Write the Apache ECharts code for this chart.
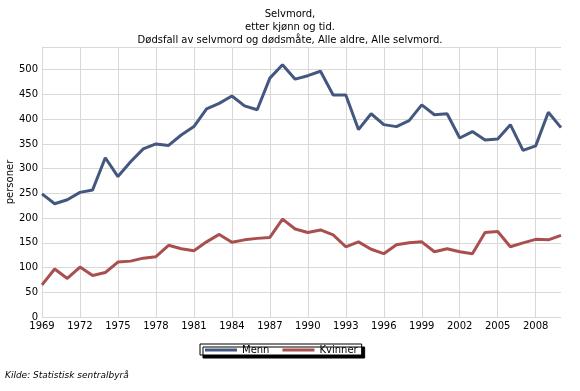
<!DOCTYPE html>
<html><head><meta charset="utf-8">
<script src="https://cdn.jsdelivr.net/npm/echarts@6/dist/echarts.min.js"></script>
<style>html,body{margin:0;padding:0;background:#fff}#c{width:580px;height:391px}</style>
</head><body><div id="c"></div>
<script>
const years = [];
for (let y = 1969; y <= 2010; y++) years.push(String(y));
const menn = [249,229,237,252,257,322,284,314,340,350,347,368,385,421,432,447,427,419,483,510,481,488,497,449,449,379,411,389,385,397,429,409,411,362,375,358,360,389,337,346,414,383];
const kvinner = [65,97,78,101,84,90,111,113,119,122,145,138,134,152,167,151,156,159,161,198,178,171,176,166,142,152,137,128,146,150,152,132,138,132,128,171,173,142,150,157,156,165];
const titleLines = ['Selvmord,', 'etter kjønn og tid.', 'Dødsfall av selvmord og dødsmåte, Alle aldre, Alle selvmord.'];
const font = 'Verdana, "DejaVu Sans", sans-serif';
const chart = echarts.init(document.getElementById('c'));
chart.setOption({
  animation: false,
  backgroundColor: '#fff',
  title: {
    text: titleLines.join('\n'), left: 'center', top: 3,
    textStyle: { fontFamily: font, fontSize: 10, fontWeight: 'normal', color: '#000', lineHeight: 13 }
  },
  grid: { left: 42, top: 47, right: 19, bottom: 74, containLabel: false, outerBoundsMode: 'none' },
  xAxis: {
    type: 'category', data: years, boundaryGap: false,
    axisLine: { show: false }, axisTick: { show: false },
    axisLabel: { interval: 2, fontFamily: font, fontSize: 10, color: '#000', margin: 4 },
    splitLine: { show: true, interval: 2, lineStyle: { color: '#d9d9d9', width: 1 } }
  },
  yAxis: {
    type: 'value', min: 0, max: 546, interval: 50,
    name: 'personer', nameLocation: 'middle', nameGap: 27, nameRotate: 90, nameMoveOverlap: false,
    nameTextStyle: { fontFamily: font, fontSize: 10, color: '#000' },
    axisLine: { show: true, lineStyle: { color: '#d9d9d9' } }, axisTick: { show: false },
    axisLabel: { showMaxLabel: false, fontFamily: font, fontSize: 10, color: '#000', margin: 4 },
    splitLine: { show: true, lineStyle: { color: '#d9d9d9', width: 1 } }
  },
  legend: {
    top: 344, left: 200,
    backgroundColor: '#fff', borderColor: '#000', borderWidth: 1,
    shadowColor: '#000', shadowOffsetX: 3, shadowOffsetY: 3, shadowBlur: 0,
    padding: [1, 4, 0, 5], itemGap: 13, itemWidth: 32, itemHeight: 3,
    icon: 'rect',
    textStyle: { fontFamily: font, fontSize: 10, color: '#000' },
    data: ['Menn', 'Kvinner']
  },
  graphic: [{
    type: 'text', left: 5, top: 371,
    style: { text: 'Kilde: Statistisk sentralbyrå', fontFamily: font, fontSize: 9, fontStyle: 'italic', fill: '#000' }
  }],
  series: [
    { name: 'Menn', type: 'line', data: menn, symbol: 'none', color: '#44587f', lineStyle: { width: 3, color: '#44587f' } },
    { name: 'Kvinner', type: 'line', data: kvinner, symbol: 'none', color: '#a94f4f', lineStyle: { width: 3, color: '#a94f4f' } }
  ]
});
</script></body></html>
